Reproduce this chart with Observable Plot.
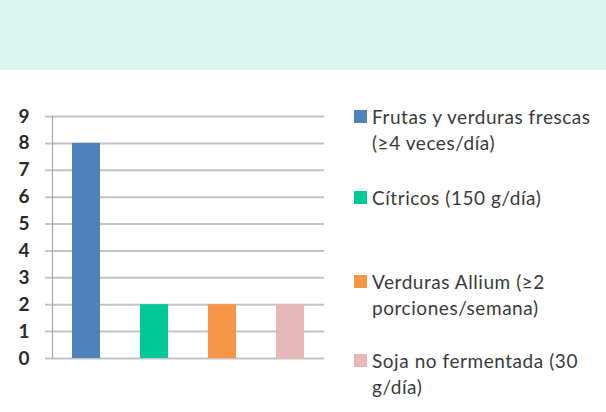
<!DOCTYPE html>
<html>
<head>
<meta charset="utf-8">
<script src="https://cdn.jsdelivr.net/npm/d3@7"></script>
<script src="https://cdn.jsdelivr.net/npm/@observablehq/plot@0.6"></script>
<style>
  html, body { margin: 0; padding: 0; background: #fff; }
  #wrap { position: relative; width: 606px; height: 412px; overflow: hidden; font-family: Lato, "Open Sans", sans-serif; }
  #band { position: absolute; left: 0; top: 0; width: 606px; height: 70px; background: #daf5ee; }
  #chart { position: absolute; left: 0; top: 0; }
  .leg { position: absolute; left: 354px; font-size: 19px; color: #3a3a3a; line-height: 25.5px; letter-spacing: 0.55px; }
  .leg .sw { position: absolute; left: 0; top: 6px; width: 13px; height: 13px; }
  .leg .tx { margin-left: 18px; white-space: nowrap; }
</style>
</head>
<body>
<div id="wrap">
  <div id="band"></div>
  <div id="chart"></div>
  <div id="legend"></div>
</div>
<script>
const categories = [
  "Frutas y verduras frescas (≥4 veces/día)",
  "Cítricos (150 g/día)",
  "Verduras Allium (≥2 porciones/semana)",
  "Soja no fermentada (30 g/día)"
];
const legendLines = [
  ["Frutas y verduras frescas", "(≥4 veces/día)"],
  ["Cítricos (150 g/día)"],
  ["Verduras Allium (≥2", "porciones/semana)"],
  ["Soja no fermentada (30", "g/día)"]
];
const values = [8, 2, 2, 2];
const colors = ["#4f81bd", "#00c896", "#f79646", "#e6b9b8"];
const yTicks = [0, 1, 2, 3, 4, 5, 6, 7, 8, 9];

const data = categories.map((c, i) => ({category: c, value: values[i]}));

const plot = Plot.plot({
  width: 606,
  height: 412,
  marginTop: 116,
  marginBottom: 54,
  marginLeft: 52,
  marginRight: 282,
  style: {background: "transparent", fontFamily: "Lato, 'Open Sans', sans-serif"},
  x: {domain: categories, paddingInner: 0.59, paddingOuter: 0.295, axis: null},
  y: {domain: [0, 9], ticks: yTicks, label: null},
  color: {domain: categories, range: colors},
  marks: [
    Plot.ruleY(yTicks, {stroke: "#c4c4c4", strokeWidth: 2, insetLeft: -7}),
    Plot.frame({anchor: "left", stroke: "#a6a6a6", strokeWidth: 1.2}),
    Plot.barY(data, {x: "category", y: "value", fill: "category"}),
    Plot.axisY({ticks: yTicks, tickSize: 0, tickPadding: 23, fontSize: 19, fontWeight: "bold", fill: "#2a2a2a", label: null})
  ]
});
document.getElementById("chart").appendChild(plot);

const legTops = [104, 185, 269, 348];
const legend = document.getElementById("legend");
legendLines.forEach((lines, i) => {
  const d = document.createElement("div");
  d.className = "leg";
  d.style.top = legTops[i] + "px";
  const sw = document.createElement("div");
  sw.className = "sw";
  sw.style.background = colors[i];
  d.appendChild(sw);
  lines.forEach(l => {
    const t = document.createElement("div");
    t.className = "tx";
    t.textContent = l;
    d.appendChild(t);
  });
  legend.appendChild(d);
});
</script>
</body>
</html>
